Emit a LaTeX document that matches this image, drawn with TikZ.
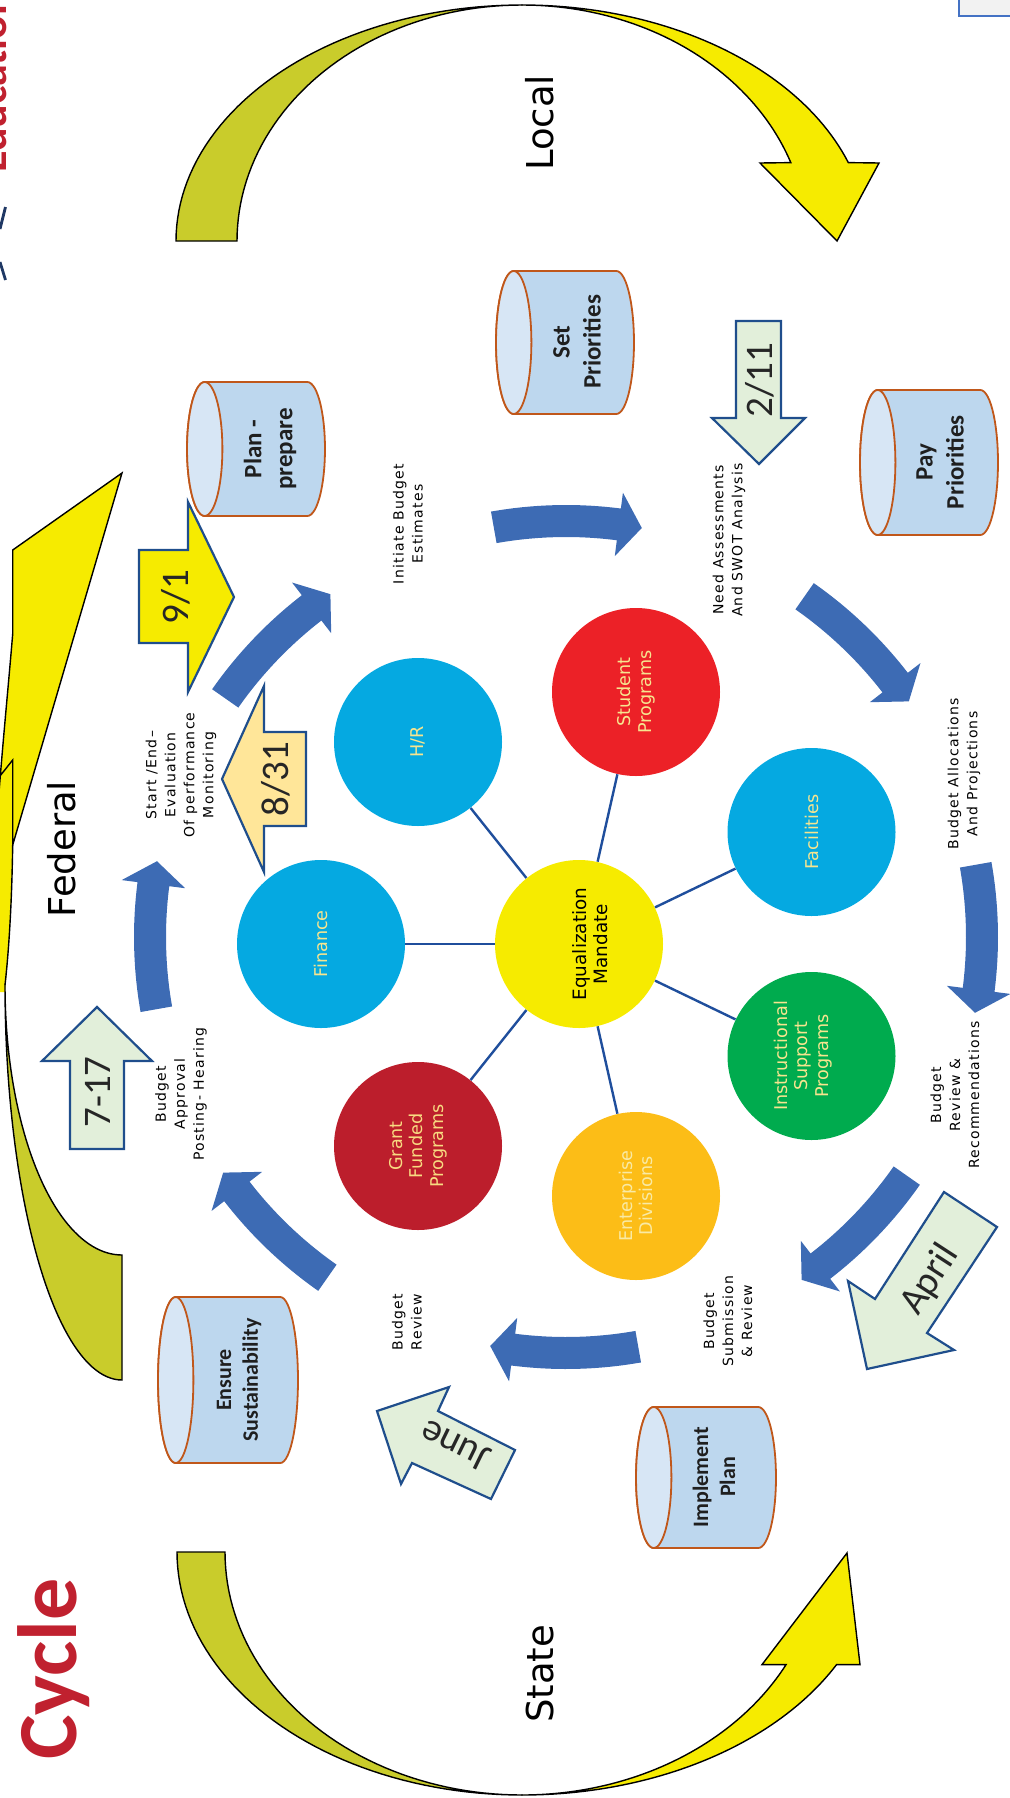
\documentclass[tikz,border=0pt]{standalone}
\usepackage{fontspec}
\setmainfont{DejaVu Sans}
\newfontfamily\dvs{DejaVu Sans}
\newfontfamily\dvsls{DejaVu Sans}[LetterSpace=9]
\newfontfamily\calf{Carlito}
\definecolor{olivec}{HTML}{C9CC2B}
\definecolor{yelc}{HTML}{F6EB00}
\definecolor{ringc}{HTML}{3D6BB4}
\definecolor{connc}{HTML}{1F4E9C}
\definecolor{cylbody}{HTML}{BDD7EE}
\definecolor{cylface}{HTML}{D7E6F5}
\definecolor{cylline}{HTML}{C0571A}
\definecolor{dline}{HTML}{1F4E8C}
\definecolor{greenfill}{HTML}{E2EFDA}
\definecolor{orfill}{HTML}{FFE699}
\definecolor{cyanc}{HTML}{05A9E1}
\definecolor{redc}{HTML}{EC2127}
\definecolor{grantc}{HTML}{BC1E2C}
\definecolor{entc}{HTML}{FCBD17}
\definecolor{greenc}{HTML}{00AB4E}
\definecolor{lblc}{HTML}{F7E58F}
\definecolor{titlered}{HTML}{C0212F}
\definecolor{navyc}{HTML}{1F3864}
\definecolor{boxblue}{HTML}{4472C4}

\newcommand\ringarrow[2]{%
  \pgfmathsetmacro\hb{#2-3.2}%
  \fill[ringc] plot[domain=#1:\hb,samples=30] ({566+432*cos(\x)},{937+432*sin(\x)})
    -- ({566+448*cos(\hb)},{937+448*sin(\hb)})
    -- ({566+416*cos(#2)},{937+416*sin(#2)})
    -- ({566+384*cos(\hb)},{937+384*sin(\hb)})
    -- plot[domain=\hb:#1,samples=30] ({566+400*cos(\x)},{937+400*sin(\x)}) -- cycle;}

\newcommand\cylinder[4]{%
  \pgfmathsetmacro\cxl{#1+17.7}\pgfmathsetmacro\cxr{#3-17.7}%
  \pgfmathsetmacro\cyc{(#2+#4)/2}\pgfmathsetmacro\cry{(#4-#2)/2}%
  \filldraw[cyl, fill=cylbody] (\cxl,#2) -- plot[domain=-90:90,samples=30] ({\cxr+17.7*cos(\x)},{\cyc+\cry*sin(\x)}) -- plot[domain=90:270,samples=30] ({\cxl+17.7*cos(\x)},{\cyc+\cry*sin(\x)}) -- cycle;
  \filldraw[cyl, fill=cylface] plot[domain=0:360,samples=60] ({\cxl+17.7*cos(\x)},{\cyc+\cry*sin(\x)}) -- cycle;}

\begin{document}
\begin{tikzpicture}[x=0.5pt,y=-0.5pt,
  bline/.style={draw=black,line width=0.7pt},
  cyl/.style={draw=cylline,line width=0.9pt},
  darrow/.style={draw=dline,line width=1.1pt,line join=miter},
  circ/.style={circle,minimum size=84pt,inner sep=0pt,rotate=90,align=center,
     font=\dvs\fontsize{8.8}{10.3}\selectfont,text=lblc},
  conn/.style={draw=connc,line width=1.2pt},
  lbl/.style={rotate=90,align=center,font=\dvsls\fontsize{7}{9.5}\selectfont},
  big/.style={rotate=90,font=\dvs\fontsize{18.5}{20}\selectfont},
  cyltxt/.style={rotate=90,align=center,text=black!88},
  datetxt/.style={font=\calf\fontsize{19.5}{20}\selectfont,text=black!85},
  ttl/.style={font=\calf\bfseries\fontsize{42}{42}\selectfont,text=titlered,rotate=90}
]
\useasboundingbox (0,0) rectangle (1010,1798);
\clip (0,0) rectangle (1010,1798);

% ---------- top-right box and left title fragments ----------
\filldraw[fill=black!5,draw=boxblue,line width=1pt] (959,-10) rectangle (1020,16);
\node[ttl,font=\calf\bfseries\fontsize{22}{22}\selectfont,inner sep=0pt,anchor=base west] (edu) at (6,173) {Education};
\draw[navyc,line width=1.4pt] (5.5,207) -- (0,229);
\draw[navyc,line width=1.4pt] (0,262) -- (5.5,280);

% ---------- Local arrow (top) ----------
\filldraw[bline,fill=olivec] plot[domain=180:270,samples=50] ({522+346*cos(\x)},{241+236*sin(\x)})
  -- plot[domain=270:180,samples=50] ({522+285*cos(\x)},{241+236*sin(\x)}) -- cycle;
\filldraw[bline,fill=yelc] plot[domain=270:340.6,samples=50] ({522+346*cos(\x)},{241+236*sin(\x)})
  -- (879,163) -- (837,241) -- (760,163)
  -- plot[domain=340.6:270,samples=50] ({522+285*cos(\x)},{241+236*sin(\x)}) -- cycle;

% ---------- State arrow (bottom) ----------
\filldraw[bline,fill=olivec] plot[domain=180:90,samples=50] ({522+345*cos(\x)},{1552+243*sin(\x)})
  -- plot[domain=90:180,samples=50] ({522+297*cos(\x)},{1552+243*sin(\x)}) -- cycle;
\filldraw[bline,fill=yelc] plot[domain=90:27.6,samples=50] ({522+355*cos(\x)},{1552+243*sin(\x)})
  -- (860,1664.6) -- (847,1553) -- (762,1664.6)
  -- plot[domain=27.6:90,samples=50] ({522+298*cos(\x)},{1552+243*sin(\x)}) -- cycle;

% ---------- Federal arrow (left edge) ----------
\fill[yelc] (122,473) -- (12.7,550) -- (12.7,634) .. controls (8,690) and (3,740) .. (-2,805)
  -- (-30,805) -- (-30,992) -- (5,992) .. controls (10,940) and (12,890) .. (12.7,845) -- cycle;
\draw[bline] (-2,805) .. controls (3,740) and (8,690) .. (12.7,634) -- (12.7,550) -- (122,473)
  -- (12.7,845) -- (12.7,760) -- (0,776);
\draw[bline] (12.7,845) .. controls (12,890) and (10,940) .. (5,985);
\filldraw[bline,fill=olivec] plot[domain=180:90,samples=50] ({122+117*cos(\x)},{985+395*sin(\x)})
  -- (122,1255) -- plot[domain=90:180,samples=50] ({122+117*cos(\x)},{985+270*sin(\x)}) -- cycle;

% ---------- big labels ----------
\node[big,anchor=base] (local) at (553,123) {Local};
\node[big,anchor=base] (federal) at (75,849) {Federal};
\node[big,anchor=base] (state) at (553,1674) {State};
\node[ttl,anchor=base] (cycle) at (76,1669) {Cycle};

% ---------- ring of blue arrows ----------
\ringarrow{260}{280.5}
\ringarrow{305}{325.5}
\ringarrow{350}{370.5}
\ringarrow{395}{415.5}
\ringarrow{440}{460.5}
\ringarrow{485}{505.5}
\ringarrow{530}{550.5}
\ringarrow{575}{595.5}

% ---------- cylinders ----------
\cylinder{187}{382}{325}{516}
\cylinder{496}{271}{634}{414}
\cylinder{860}{390}{998}{535}
\cylinder{158}{1297}{298}{1463}
\cylinder{636}{1407}{776}{1548}
\node[cyltxt,font=\calf\bfseries\fontsize{12.5}{15.5}\selectfont] (plan) at (270,449) {Plan -\\prepare};
\node[cyltxt,font=\calf\bfseries\fontsize{12.5}{15.5}\selectfont] (setp) at (577,342) {Set\\Priorities};
\node[cyltxt,font=\calf\bfseries\fontsize{12.5}{15.5}\selectfont] (payp) at (940,462) {Pay\\Priorities};
\node[cyltxt,font=\calf\bfseries\fontsize{11}{13.4}\selectfont] (ensure) at (239,1380) {Ensure\\Sustainability};
\node[cyltxt,font=\calf\bfseries\fontsize{11}{13.4}\selectfont] (impl) at (714,1477) {Implement\\Plan};

% ---------- date arrows ----------
\filldraw[darrow,fill=yelc] (139,550) -- (188,550) -- (188,502) -- (234,597) -- (188,692) -- (188,643) -- (139,643) -- cycle;
\filldraw[darrow,fill=orfill] (306,732) -- (264,732) -- (264,686) -- (222,779) -- (264,872) -- (264,826) -- (306,826) -- cycle;
\filldraw[darrow,fill=greenfill] (70,1149) -- (70,1061) -- (42,1061) -- (97,1007) -- (152,1061) -- (124,1061) -- (124,1149) -- cycle;
\filldraw[darrow,fill=greenfill] (736,321) -- (781,321) -- (781,418) -- (805,418) -- (759,464) -- (712,418) -- (736,418) -- cycle;
\filldraw[darrow,fill=greenfill] (944,1192) -- (997,1227) -- (927,1333) -- (954,1350) -- (867,1369) -- (848,1281) -- (875,1299) -- cycle;
\filldraw[darrow,fill=greenfill] (377,1411) -- (449,1387) -- (438,1411) -- (515,1450) -- (491,1499) -- (412,1463) -- (401,1484) -- cycle;
\node[datetxt,rotate=90] (t91) at (176,597) {9/1};
\node[datetxt,rotate=90] (t831) at (276,779) {8/31};
\node[datetxt,rotate=90] (t717) at (98,1092) {7-17};
\node[datetxt,rotate=90] (t211) at (760,380) {2/11};
\node[datetxt,rotate=57] (tapr) at (930,1280) {April};
\node[datetxt,rotate=154] (tjun) at (455,1446) {June};

% ---------- step labels ----------
\node[lbl] (l1) at (408,524) {Initiate Budget\\Estimates};
\node[lbl] (l2) at (729,540) {Need Assessments\\And SWOT Analysis};
\node[lbl] (l3) at (964,774) {Budget Allocations\\And Projections};
\node[lbl] (l4) at (955,1095) {Budget\\Review \&\\Recommendations};
\node[lbl] (l5) at (728,1321) {Budget\\Submission\\\& Review};
\node[lbl] (l6) at (407,1322) {Budget\\Review};
\node[lbl] (l7) at (181,1094) {Budget\\Approval\\Posting- Hearing};
\node[lbl] (l8) at (181,775) {Start /End–\\Evaluation\\Of performance\\Monitoring};

% ---------- hub and spokes ----------
\node[circ,fill=yelc] (eq) at (579,944) {};
\node[circ,fill=cyanc] (fin) at (321,944) {Finance};
\node[circ,fill=cyanc] (hr) at (418,742) {H/R};
\node[circ,fill=redc] (stu) at (636,692) {Student\\Programs};
\node[circ,fill=cyanc] (fac) at (811.5,832) {Facilities};
\node[circ,fill=greenc] (ins) at (811.5,1056) {};
\node[circ,fill=entc,text=lblc!80!white] (ent) at (636,1196) {Enterprise\\Divisions};
\node[circ,fill=grantc,text=lblc!90!orange] (gra) at (418,1146) {Grant\\Funded\\Programs};
\node[rotate=90,align=center,font=\dvs\fontsize{9.2}{10.8}\selectfont,text=black] (eqtxt) at (590,944) {Equalization\\Mandate};
\node[rotate=90,align=center,font=\dvs\fontsize{8.8}{10.3}\selectfont,text=lblc] (instxt) at (803,1056) {Instructional\\Support\\Programs};
\foreach \n in {fin,hr,stu,fac,ins,ent,gra} \draw[conn] (eq) -- (\n);
\end{tikzpicture}
\end{document}
